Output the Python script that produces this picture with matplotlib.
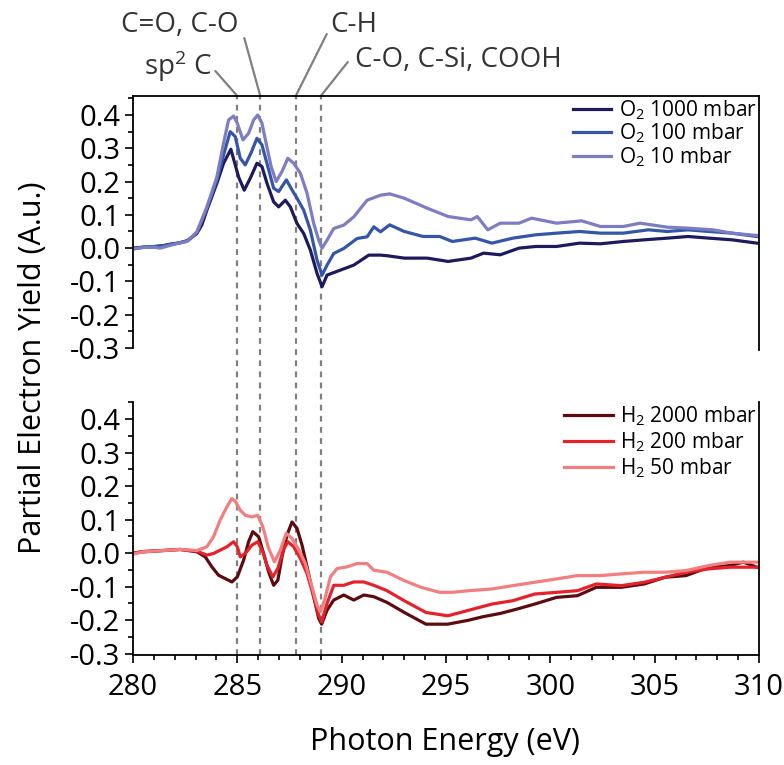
import matplotlib
matplotlib.use("Agg")
import matplotlib.pyplot as plt
from matplotlib.ticker import MultipleLocator

plt.rcParams['font.family'] = ['Open Sans', 'DejaVu Sans']
plt.rcParams['mathtext.fontset'] = 'custom'
plt.rcParams['mathtext.rm'] = 'Open Sans'
plt.rcParams['mathtext.it'] = 'Open Sans:italic'
plt.rcParams['mathtext.bf'] = 'Open Sans:bold'

# ---------------- data ----------------
# O2 panel
e_o2_1000 = [280.0, 280.5, 281.0, 281.5, 281.8, 282.26, 282.6, 283.06, 283.3, 283.54, 284.02, 284.34,
             284.69, 285.06, 285.33, 285.62, 285.94, 286.18, 286.42, 286.74, 286.98, 287.30, 287.54,
             287.86, 288.18, 288.5, 288.82, 289.06, 289.3, 289.94, 290.58, 291.3, 291.86, 292.2,
             293.0, 294.1, 295.1, 296.2, 296.8, 297.6, 298.5, 299.3, 300.3, 301.4, 302.4, 303.5,
             304.5, 305.6, 306.6, 307.6, 308.7, 309.9]
y_o2_1000 = [0.0, 0.003, 0.004, 0.008, 0.012, 0.016, 0.022, 0.044, 0.07, 0.114, 0.195, 0.255,
             0.297, 0.214, 0.174, 0.21, 0.255, 0.245, 0.195, 0.139, 0.124, 0.144, 0.124,
             0.074, 0.044, -0.006, -0.076, -0.116, -0.081, -0.066, -0.051, -0.021, -0.021, -0.023,
             -0.03, -0.03, -0.04, -0.03, -0.015, -0.02, 0.0, 0.005, 0.005, 0.015, 0.013, 0.02,
             0.025, 0.03, 0.035, 0.03, 0.025, 0.015]

e_o2_100 = [280.0, 280.5, 281.0, 281.5, 282.0, 282.6, 283.06, 283.54, 284.02, 284.34, 284.66, 284.9,
            285.14, 285.38, 285.65, 285.94, 286.18, 286.46, 286.74, 286.98, 287.35, 287.62, 287.86,
            288.18, 288.5, 288.82, 289.06, 289.3, 289.62, 290.1, 290.74, 291.22, 291.54, 291.86,
            292.3, 293.0, 293.9, 294.7, 295.3, 296.4, 297.2, 298.2, 299.3, 300.3, 301.4, 302.4,
            303.5, 304.7, 305.6, 306.6, 307.6, 308.7, 309.9]
y_o2_100 = [-0.002, 0.003, 0.005, 0.008, 0.013, 0.022, 0.046, 0.119, 0.205, 0.28, 0.35, 0.335,
            0.27, 0.25, 0.285, 0.33, 0.31, 0.245, 0.18, 0.17, 0.205, 0.175, 0.15,
            0.114, 0.054, -0.036, -0.081, -0.051, -0.016, -0.001, 0.029, 0.034, 0.064, 0.049,
            0.07, 0.05, 0.035, 0.035, 0.02, 0.03, 0.015, 0.03, 0.04, 0.045, 0.05, 0.045,
            0.045, 0.055, 0.05, 0.055, 0.05, 0.045, 0.035]

e_o2_10 = [280.0, 280.5, 281.0, 281.3, 282.0, 282.6, 283.06, 283.54, 284.02, 284.34, 284.58, 284.82,
           285.0, 285.27, 285.54, 285.78, 285.98, 286.18, 286.38, 286.62, 286.86, 287.14, 287.42,
           287.7, 288.02, 288.34, 288.66, 288.9, 289.06, 289.3, 289.62, 290.1, 290.58, 291.22,
           291.86, 292.3, 293.0, 294.1, 295.1, 296.2, 296.5, 297.0, 297.6, 298.5, 299.1, 300.3,
           301.5, 302.4, 303.5, 304.3, 305.6, 306.6, 307.8, 308.7, 309.9]
y_o2_10 = [-0.003, 0.002, 0.003, 0.0, 0.012, 0.02, 0.049, 0.124, 0.214, 0.315, 0.385, 0.397,
           0.375, 0.325, 0.345, 0.385, 0.40, 0.375, 0.315, 0.245, 0.20, 0.23, 0.27,
           0.255, 0.225, 0.165, 0.074, 0.024, 0.0, 0.024, 0.059, 0.069, 0.094, 0.144,
           0.159, 0.163, 0.15, 0.12, 0.095, 0.085, 0.095, 0.055, 0.075, 0.075, 0.09, 0.075,
           0.082, 0.065, 0.065, 0.075, 0.063, 0.06, 0.055, 0.045, 0.038]

# H2 panel
e_h2_2000 = [280.0, 280.5, 281.0, 281.5, 282.26, 283.06, 283.46, 283.78, 284.1, 284.42, 284.74, 285.0,
             285.3, 285.54, 285.74, 286.02, 286.26, 286.5, 286.74, 286.94, 287.14, 287.38, 287.62,
             287.86, 288.1, 288.34, 288.66, 288.9, 289.04, 289.3, 289.62, 290.1, 290.58, 291.06,
             291.54, 292.17, 293.0, 294.04, 295.08, 296.1, 296.75, 297.6, 298.4, 299.25, 300.3,
             301.3, 302.2, 303.4, 304.5, 305.5, 306.5, 307.6, 308.6, 309.25, 309.9]
y_h2_2000 = [0.0, 0.004, 0.006, 0.008, 0.011, 0.004, -0.011, -0.041, -0.066, -0.076, -0.086, -0.071,
             -0.021, 0.034, 0.064, 0.049, -0.001, -0.056, -0.096, -0.081, -0.011, 0.054, 0.093,
             0.074, 0.024, -0.041, -0.13, -0.195, -0.212, -0.17, -0.14, -0.125, -0.14, -0.125,
             -0.13, -0.147, -0.177, -0.212, -0.212, -0.2, -0.19, -0.18, -0.167, -0.152, -0.132,
             -0.127, -0.102, -0.102, -0.092, -0.072, -0.067, -0.042, -0.037, -0.027, -0.042]

e_h2_200 = [280.0, 280.5, 281.0, 281.5, 282.26, 283.06, 283.54, 283.86, 284.18, 284.5, 284.82, 285.0,
            285.14, 285.38, 285.7, 285.98, 286.22, 286.42, 286.7, 286.94, 287.2, 287.42, 287.7,
            288.02, 288.34, 288.66, 288.9, 289.04, 289.3, 289.62, 290.1, 290.58, 291.06, 291.54,
            292.17, 293.0, 294.04, 295.08, 295.7, 296.3, 297.2, 298.2, 299.25, 300.3, 301.3,
            302.2, 303.4, 304.5, 305.5, 306.5, 307.6, 308.6, 309.9]
y_h2_200 = [0.0, 0.005, 0.007, 0.008, 0.011, 0.006, -0.006, -0.001, 0.009, 0.019, 0.034, 0.019,
            -0.011, -0.001, 0.024, 0.034, 0.004, -0.036, -0.071, -0.046, 0.009, 0.034, 0.019,
            -0.016, -0.061, -0.13, -0.185, -0.205, -0.15, -0.096, -0.096, -0.086, -0.086, -0.096,
            -0.112, -0.142, -0.177, -0.187, -0.177, -0.167, -0.152, -0.142, -0.122, -0.117, -0.112,
            -0.092, -0.097, -0.087, -0.072, -0.057, -0.047, -0.042, -0.042]

e_h2_50 = [280.0, 280.5, 281.0, 281.5, 282.26, 283.06, 283.54, 283.86, 284.18, 284.5, 284.74, 284.9,
           285.14, 285.38, 285.7, 285.98, 286.22, 286.5, 286.78, 287.06, 287.34, 287.62, 287.94,
           288.26, 288.58, 288.82, 288.98, 289.18, 289.46, 289.78, 290.26, 290.74, 291.22, 291.54,
           292.17, 293.0, 293.8, 294.7, 295.3, 296.1, 297.2, 298.2, 299.25, 300.3, 301.3, 302.4,
           303.4, 304.5, 305.5, 306.5, 307.6, 308.6, 309.9]
y_h2_50 = [-0.003, 0.004, 0.006, 0.008, 0.011, 0.008, 0.019, 0.049, 0.099, 0.138, 0.163, 0.155,
           0.128, 0.113, 0.108, 0.113, 0.079, 0.014, -0.026, 0.009, 0.059, 0.044, 0.011,
           -0.031, -0.101, -0.155, -0.175, -0.14, -0.071, -0.046, -0.041, -0.031, -0.031, -0.051,
           -0.057, -0.082, -0.102, -0.117, -0.117, -0.112, -0.107, -0.097, -0.087, -0.077, -0.067, -0.067,
           -0.062, -0.057, -0.057, -0.052, -0.037, -0.027, -0.027]

o2_labels = ["O$_\\mathregular{2}$ 1000 mbar", "O$_\\mathregular{2}$ 100 mbar", "O$_\\mathregular{2}$ 10 mbar"]
h2_labels = ["H$_\\mathregular{2}$ 2000 mbar", "H$_\\mathregular{2}$ 200 mbar", "H$_\\mathregular{2}$ 50 mbar"]
o2_colors = ["#1d1b5c", "#3555a6", "#7d7dc2"]
h2_colors = ["#5c0c10", "#e5222b", "#f27f80"]

peak_positions = [285.0, 286.1, 287.8, 289.0]
peak_labels = ["sp$^\\mathregular{2}$ C", "C=O, C-O", "C-H", "C-O, C-Si, COOH"]

# ---------------- figure ----------------
W, H = 784, 765
fig = plt.figure(figsize=(W / 100, H / 100), dpi=100)

def fr(x0, y0, x1, y1):
    return [x0 / W, 1 - y1 / H, (x1 - x0) / W, (y1 - y0) / H]

# overlay for dashed guide lines (drawn behind the panels)
ov = fig.add_axes(fr(133, 96, 759, 655))
ov.set_xlim(280, 310)
ov.set_ylim(0, 1)
ov.axis('off')
for p in peak_positions:
    ov.axvline(p, color="#808080", lw=1.6, ls=(0, (2.6, 2.4)), zorder=0)

ax1 = fig.add_axes(fr(133, 96, 759, 350))
ax2 = fig.add_axes(fr(133, 402, 759, 655))
for a in (ax1, ax2):
    a.patch.set_alpha(0)
    a.set_xlim(280, 310)
    for s in a.spines.values():
        s.set_linewidth(1.3)

ax1.set_ylim(-0.306, 0.457)
ax2.set_ylim(-0.304, 0.451)

lw = 2.3
for e, y, c, l in zip([e_o2_1000, e_o2_100, e_o2_10], [y_o2_1000, y_o2_100, y_o2_10], o2_colors, o2_labels):
    ax1.plot(e, y, color=c, lw=lw, label=l, solid_joinstyle='round')
for e, y, c, l in zip([e_h2_2000, e_h2_200, e_h2_50], [y_h2_2000, y_h2_200, y_h2_50], h2_colors, h2_labels):
    ax2.plot(e, y, color=c, lw=lw, label=l, solid_joinstyle='round')

# spines
ax1.spines['bottom'].set_visible(False)
ax2.spines['top'].set_visible(False)
ax1.spines['left'].set_bounds(-0.3, 0.457)
ax2.spines['left'].set_bounds(-0.3, 0.451)

for a in (ax1, ax2):
    a.yaxis.set_major_locator(MultipleLocator(0.1))
    a.yaxis.set_minor_locator(MultipleLocator(0.05))
    a.tick_params(axis='y', which='major', direction='out', length=6, width=1.2, labelsize=21, pad=3)
    a.tick_params(axis='y', which='minor', direction='out', length=3.5, width=1.2)
    a.set_yticks([-0.3, -0.2, -0.1, 0.0, 0.1, 0.2, 0.3, 0.4])
    a.set_yticklabels(["-0.3", "-0.2", "-0.1", "0.0", "0.1", "0.2", "0.3", "0.4"])

ax1.tick_params(axis='x', which='both', bottom=False, labelbottom=False)
ax2.xaxis.set_major_locator(MultipleLocator(5))
ax2.xaxis.set_minor_locator(MultipleLocator(1))
ax2.tick_params(axis='x', which='major', direction='out', length=6, width=1.2, labelsize=21, pad=7)
ax2.tick_params(axis='x', which='minor', direction='out', length=3.5, width=1.2)

leg1 = ax1.legend(loc='upper right', bbox_to_anchor=(1.0, 1.0), frameon=False, fontsize=15,
                  handlelength=1.8, handletextpad=0.4, labelspacing=0.0, borderaxespad=0.0,
                  borderpad=0.1)
leg2 = ax2.legend(loc='upper right', bbox_to_anchor=(1.0, 1.0), frameon=False, fontsize=15,
                  handlelength=2.35, handletextpad=0.35, labelspacing=0.12, borderaxespad=0.0,
                  borderpad=0.1)
for lg in (leg1, leg2):
    for h in lg.get_lines():
        h.set_linewidth(2.3)

# peak annotations: (line end offset px), (text offset px), ha
px = 0.72
ann = [((-22, 25), (-25, 21), 'right'),
       ((-16, 58), (-22, 64), 'right'),
       ((31, 62), (34, 64), 'left'),
       ((27, 34), (34, 29), 'left')]
for p, lab, (le, to, ha) in zip(peak_positions, peak_labels, ann):
    ov.annotate('', xy=(p, 1.0), xycoords='data', xytext=(le[0] * px, le[1] * px),
                textcoords='offset points',
                arrowprops=dict(arrowstyle='-', color='#808080', lw=1.6, shrinkA=0, shrinkB=0),
                annotation_clip=False)
    ov.annotate(lab, xy=(p, 1.0), xycoords='data', xytext=(to[0] * px, to[1] * px),
                textcoords='offset points', ha=ha, va='baseline', fontsize=20, color='#333333',
                annotation_clip=False)

fig.text(33 / W, 1 - 368 / H, "Partial Electron Yield (A.u.)", rotation=90, ha='center', va='center',
         fontsize=22)
fig.text(445 / W, 1 - 742 / H, "Photon Energy (eV)", ha='center', va='center', fontsize=22)

fig.savefig("out.png", dpi=100)
